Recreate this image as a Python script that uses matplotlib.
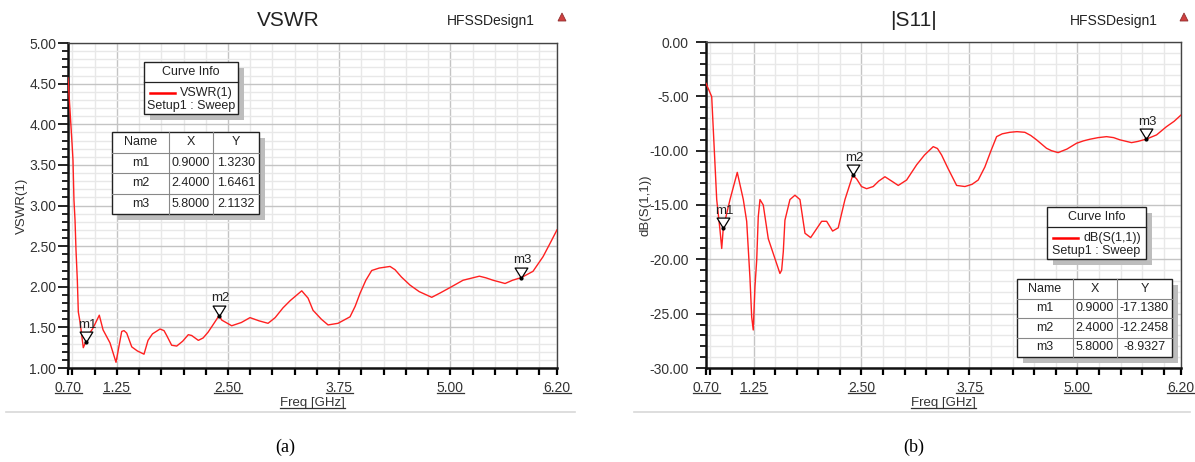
import matplotlib.pyplot as plt
import matplotlib.lines as mlines
import matplotlib.patches as mpatches
from matplotlib.path import Path
import numpy as np

plt.rcParams['font.family'] = ['Liberation Sans', 'DejaVu Sans']

# ---------------- data ----------------
vswr_freq = [0.700, 0.722, 0.745, 0.756, 0.767, 0.779, 0.790, 0.805, 0.816, 0.835,
             0.872, 0.900, 0.914, 0.981, 1.052, 1.094, 1.172, 1.240, 1.304, 1.330,
             1.360, 1.417, 1.480, 1.555, 1.600, 1.650, 1.735, 1.780, 1.810, 1.866,
             1.923, 1.990, 2.053, 2.091, 2.166, 2.220, 2.275, 2.330, 2.400, 2.429,
             2.541, 2.650, 2.747, 2.850, 2.950, 3.030, 3.118, 3.200, 3.329, 3.400,
             3.456, 3.550, 3.625, 3.737, 3.872, 3.930, 3.985, 4.050, 4.116, 4.200,
             4.322, 4.378, 4.450, 4.547, 4.650, 4.791, 4.880, 4.997, 5.143, 5.327,
             5.400, 5.481, 5.616, 5.700, 5.800, 5.930, 6.043, 6.120, 6.200]
vswr_vals = [4.57, 4.18, 3.77, 3.56, 3.07, 2.82, 2.45, 2.08, 1.69, 1.57,
             1.25, 1.323, 1.38, 1.49, 1.65, 1.47, 1.31, 1.07, 1.45, 1.46,
             1.43, 1.26, 1.21, 1.17, 1.34, 1.42, 1.48, 1.46, 1.40, 1.28,
             1.27, 1.33, 1.41, 1.40, 1.34, 1.37, 1.44, 1.53, 1.646, 1.59,
             1.52, 1.56, 1.62, 1.58, 1.55, 1.62, 1.74, 1.83, 1.95, 1.86,
             1.71, 1.60, 1.53, 1.55, 1.63, 1.76, 1.92, 2.08, 2.20, 2.23,
             2.25, 2.21, 2.12, 2.02, 1.94, 1.87, 1.92, 1.99, 2.08, 2.13,
             2.11, 2.08, 2.04, 2.08, 2.113, 2.19, 2.37, 2.53, 2.70]

s11_freq = [0.700, 0.766, 0.824, 0.862, 0.882, 0.900, 0.978, 1.062, 1.132, 1.171,
            1.209, 1.229, 1.247, 1.267, 1.287, 1.305, 1.325, 1.363, 1.421, 1.556,
            1.576, 1.595, 1.614, 1.672, 1.730, 1.788, 1.846, 1.912, 2.039, 2.097,
            2.166, 2.231, 2.309, 2.400, 2.444, 2.500, 2.560, 2.636, 2.700, 2.772,
            2.850, 2.926, 3.023, 3.139, 3.230, 3.331, 3.380, 3.428, 3.500, 3.602,
            3.698, 3.780, 3.852, 3.929, 4.000, 4.065, 4.130, 4.218, 4.300, 4.392,
            4.460, 4.527, 4.643, 4.700, 4.777, 4.880, 4.990, 5.070, 5.144, 5.240,
            5.338, 5.420, 5.491, 5.627, 5.700, 5.800, 5.917, 6.032, 6.120, 6.200]
s11_vals = [-3.80, -5.03, -14.5, -17.3, -19.0, -17.138, -14.5, -12.0, -14.5, -16.5,
            -21.7, -25.3, -26.5, -22.5, -20.1, -16.1, -14.5, -15.0, -18.1, -21.3,
            -21.0, -19.3, -16.4, -14.5, -14.1, -14.5, -17.6, -18.0, -16.5, -16.5,
            -17.4, -17.1, -14.5, -12.2458, -12.6, -13.3, -13.5, -13.3, -12.8, -12.4,
            -12.8, -13.2, -12.7, -11.3, -10.4, -9.63, -9.8, -10.4, -11.6, -13.2,
            -13.3, -13.1, -12.7, -11.5, -10.0, -8.71, -8.45, -8.31, -8.25, -8.31,
            -8.6, -9.0, -9.78, -10.0, -10.18, -9.85, -9.32, -9.1, -8.95, -8.8,
            -8.71, -8.8, -9.0, -9.26, -9.15, -8.9327, -8.55, -7.79, -7.3, -6.72]

marker_names = ['m1', 'm2', 'm3']
marker_x = [0.9, 2.4, 5.8]
vswr_marker_y = [1.3230, 1.6461, 2.1132]
s11_marker_y = [-17.1380, -12.2458, -8.9327]

xtick_vals = [0.70, 1.25, 2.50, 3.75, 5.00, 6.20]
xtick_labels = ['0.70', '1.25', '2.50', '3.75', '5.00', '6.20']
vswr_yticks = [1.0, 1.5, 2.0, 2.5, 3.0, 3.5, 4.0, 4.5, 5.0]
s11_yticks = [-30, -25, -20, -15, -10, -5, 0]

W, H = 1195, 462
fig = plt.figure(figsize=(W / 100, H / 100), dpi=100)


def fx(px):
    return px / W


def fy(py):
    return 1 - py / H


def box(x0, y0, x1, y1, **kw):
    # rectangle in figure pixel coords (top-left origin)
    r = mpatches.Rectangle((fx(x0), fy(y1)), fx(x1) - fx(x0), fy(y0) - fy(y1),
                           transform=fig.transFigure, **kw)
    fig.add_artist(r)


def hline(x0, x1, y, **kw):
    fig.add_artist(mlines.Line2D([fx(x0), fx(x1)], [fy(y), fy(y)], transform=fig.transFigure, **kw))


def vline(x, y0, y1, **kw):
    fig.add_artist(mlines.Line2D([fx(x), fx(x)], [fy(y0), fy(y1)], transform=fig.transFigure, **kw))


def ftext(x, y, s, **kw):
    fig.text(fx(x), fy(y), s, **kw)


# down-pointing triangle with its tip on the data point
tip_marker = Path([(-0.55, 0.9), (0.55, 0.9), (0.0, 0.0), (-0.55, 0.9)],
                  [Path.MOVETO, Path.LINETO, Path.LINETO, Path.CLOSEPOLY])

txt_col = '#333333'


def setup_axes(ax, ymin, ymax, yticks, yminor, ylab, ypad, lpad):
    ax.set_xlim(0.7, 6.2)
    ax.set_ylim(ymin, ymax)
    ax.set_xticks(xtick_vals, xtick_labels)
    ax.set_xticks(np.arange(0.75, 6.01, 0.25), minor=True)
    ax.set_yticks(yticks, ['%.2f' % v for v in yticks])
    ax.set_yticks(np.arange(ymin, ymax + 1e-6, yminor), minor=True)
    ax.grid(which='minor', color='#e8e8e8', lw=1.0, zorder=0)
    ax.grid(which='major', color='#c4c4c4', lw=1.0, zorder=0)
    ax.tick_params(axis='y', which='major', direction='out', length=7.5, width=1.2,
                   labelsize=10, labelcolor=txt_col, pad=ypad)
    ax.tick_params(axis='y', which='minor', direction='out', length=4, width=1.2)
    ax.tick_params(axis='x', which='both', direction='out', length=5, width=1.6,
                   labelsize=10, labelcolor=txt_col, pad=4)
    for s in ['left', 'bottom']:
        ax.spines[s].set_linewidth(1.8)
        ax.spines[s].set_color('#111111')
    for s in ['top', 'right']:
        ax.spines[s].set_linewidth(1.0)
        ax.spines[s].set_color('#444444')
    ax.set_axisbelow(True)
    ax.set_ylabel(ylab, fontsize=9.5, color=txt_col, labelpad=lpad)
    ax.set_xlabel('Freq [GHz]', fontsize=9.5, color=txt_col, loc='center', labelpad=2)


def add_markers(ax, ys):
    for n, mx, my in zip(marker_names, marker_x, ys):
        ax.plot([mx], [my], marker=tip_marker, ms=15, mfc='white', mec='black', mew=0.9, zorder=4)
        ax.plot([mx], [my], 'o', ms=2, color='black', zorder=5)
        ax.annotate(n, (mx, my), xytext=(1, 8), textcoords='offset points', ha='center',
                    va='bottom', fontsize=9.5, color='#222222', zorder=5)


# ---------------- left: VSWR ----------------
axL = fig.add_axes([fx(68), fy(368), fx(557) - fx(68), fy(43) - fy(368)])
setup_axes(axL, 1.0, 5.0, vswr_yticks, 0.1, 'VSWR(1)', 1, 1)
axL.plot(vswr_freq, vswr_vals, color='#ff2020', lw=1.0, zorder=3)
add_markers(axL, vswr_marker_y)

# ---------------- right: |S11| ----------------
axR = fig.add_axes([fx(706), fy(368), fx(1181) - fx(706), fy(42) - fy(368)])
setup_axes(axR, -30, 0, s11_yticks, 1, 'dB(S(1,1))', 5, -2)
axR.plot(s11_freq, s11_vals, color='#ff2020', lw=1.0, zorder=3)
add_markers(axR, s11_marker_y)

# ---------------- titles, headers ----------------
ftext(288, 21, 'VSWR', fontsize=15, ha='center', va='center', color='#222222')
ftext(914, 21, '|S11|', fontsize=15, ha='center', va='center', color='#222222')
ftext(491, 21, 'HFSSDesign1', fontsize=10, ha='center', va='center', color='#222222')
ftext(1114, 21, 'HFSSDesign1', fontsize=10, ha='center', va='center', color='#222222')
for cx in [562, 1184]:
    fig.add_artist(mpatches.Polygon([(fx(cx - 4), fy(21)), (fx(cx + 4), fy(21)), (fx(cx), fy(13))],
                                    closed=True, transform=fig.transFigure,
                                    fc='#d04040', ec='#903030', lw=0.6))

# separators and captions
hline(6, 575, 412, color='#d8d8d8', lw=1.2)
hline(634, 1190, 412, color='#d8d8d8', lw=1.2)
ftext(285, 447, '(a)', fontsize=13, ha='center', va='center', family='Liberation Serif', color='black')
ftext(914, 447, '(b)', fontsize=13, ha='center', va='center', family='Liberation Serif', color='black')


# ---------------- curve info boxes ----------------
def curve_info(x0, y0, x1, y1, hdr, name):
    box(x0 + 6, y0 + 6, x1 + 6, y1 + 6, fc='#bdbdbd', ec='none', zorder=6)
    box(x0, y0, x1, y1, fc='white', ec='#222222', lw=1.0, zorder=7)
    hline(x0, x1, hdr, color='#222222', lw=0.9, zorder=8)
    ftext((x0 + x1) / 2, (y0 + hdr) / 2, 'Curve Info', fontsize=9, ha='center', va='center',
          color='#222222', zorder=9)
    row = hdr + (y1 - hdr) * 0.33
    hline(x0 + 6, x0 + 31, row, color='#ff0000', lw=1.8, zorder=9)
    ftext(x1 - 5, row, name, fontsize=9, ha='right', va='center', color='#222222', zorder=9)
    ftext((x0 + x1) / 2, hdr + (y1 - hdr) * 0.74, 'Setup1 : Sweep', fontsize=9, ha='center',
          va='center', color='#222222', zorder=9)


def marker_table(x0, y0, x1, y1, c1, c2, yvals, fmt):
    box(x0 + 6, y0 + 6, x1 + 6, y1 + 6, fc='#bdbdbd', ec='none', zorder=6)
    box(x0, y0, x1, y1, fc='white', ec='#222222', lw=1.0, zorder=7)
    rh = (y1 - y0) / 4.0
    for i in range(1, 4):
        hline(x0, x1, y0 + i * rh, color='#888888', lw=0.8, zorder=8)
    vline(c1, y0, y1, color='#888888', lw=0.8, zorder=8)
    vline(c2, y0, y1, color='#888888', lw=0.8, zorder=8)
    cols = [(x0 + c1) / 2, (c1 + c2) / 2, (c2 + x1) / 2]
    rows = [['Name', 'X', 'Y']] + [[n, '%.4f' % mx, fmt % my]
                                   for n, mx, my in zip(marker_names, marker_x, yvals)]
    for r, vals in enumerate(rows):
        for cx, s in zip(cols, vals):
            ftext(cx, y0 + (r + 0.5) * rh, s, fontsize=9, ha='center', va='center',
                  color='#222222', zorder=9)


curve_info(144, 62, 238, 114, 82, 'VSWR(1)')
marker_table(112, 132, 259, 214, 169, 213, vswr_marker_y, '%.4f')
curve_info(1047, 207, 1146, 259, 227, 'dB(S(1,1))')
marker_table(1017, 279, 1172, 357, 1073, 1117, s11_marker_y, '%.4f')

# ---------------- underline x tick labels and x labels ----------------
fig.canvas.draw()
rend = fig.canvas.get_renderer()
for ax in [axL, axR]:
    items = list(ax.get_xticklabels()) + [ax.xaxis.label]
    for t in items:
        bb = t.get_window_extent(rend)
        yb = (bb.y0 + 1.5) / H
        fig.add_artist(mlines.Line2D([bb.x0 / W, bb.x1 / W], [yb, yb], transform=fig.transFigure,
                                     color=txt_col, lw=0.9))

fig.savefig('out.png', dpi=100)
